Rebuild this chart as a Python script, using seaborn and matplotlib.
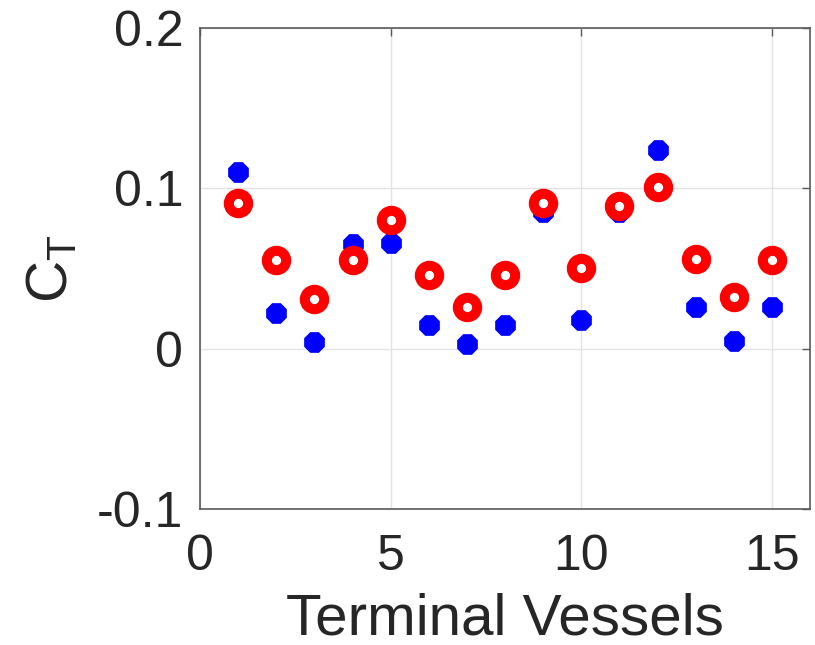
import numpy as np
import pandas as pd
import matplotlib
matplotlib.use('Agg')
import matplotlib.pyplot as plt
import seaborn as sns

# data
vessels = list(range(1, 16))
ct_blue = [0.110, 0.022, 0.004, 0.065, 0.066, 0.015, 0.003, 0.015,
           0.085, 0.018, 0.085, 0.124, 0.026, 0.005, 0.026]
ct_red = [0.091, 0.055, 0.031, 0.055, 0.080, 0.046, 0.026, 0.046,
          0.091, 0.050, 0.089, 0.101, 0.056, 0.032, 0.055]

df = pd.DataFrame({'vessel': vessels, 'blue': ct_blue, 'red': ct_red})

sns.set_style('white')
plt.rcParams['font.family'] = ['Liberation Sans', 'DejaVu Sans']
plt.rcParams['mathtext.fontset'] = 'custom'
plt.rcParams['mathtext.rm'] = 'Liberation Sans'

txt = '#262626'
fig = plt.figure(figsize=(8.15, 6.45), dpi=100)
ax = fig.add_axes([0.2454, 0.2109, 0.7485, 0.7457])

#----------blue points----------
sns.scatterplot(x='vessel', y='blue', data=df, ax=ax, marker='8',
                s=260, color='#0000ff', linewidth=0, zorder=3)
#----------red rings----------
sns.scatterplot(x='vessel', y='red', data=df, ax=ax, marker='o',
                s=14**2, facecolor='white', edgecolor='#ff0000',
                linewidth=7.2, zorder=4)

ax.set_xlim(0, 16)
ax.set_ylim(-0.1, 0.2)
ax.set_xticks([0, 5, 10, 15])
ax.set_yticks([-0.1, 0, 0.1, 0.2])
ax.set_yticklabels(['-0.1', '0', '0.1', '0.2'])
ax.grid(True, color='#e3e3e3', linewidth=1)
ax.set_axisbelow(True)
for s in ax.spines.values():
    s.set_color('#5a5a5a')
    s.set_linewidth(1.2)
ax.tick_params(direction='in', length=6, width=1, colors='#5a5a5a',
               labelcolor=txt, labelsize=36, top=True, right=True)
ax.tick_params(axis='x', pad=18)
ax.tick_params(axis='y', pad=12)
ax.set_xlabel('Terminal Vessels', fontsize=42, color=txt, labelpad=9)
ax.set_ylabel(r'$\mathregular{C_T}$', fontsize=42, color=txt, labelpad=13)

fig.savefig('out.png', dpi=100)
